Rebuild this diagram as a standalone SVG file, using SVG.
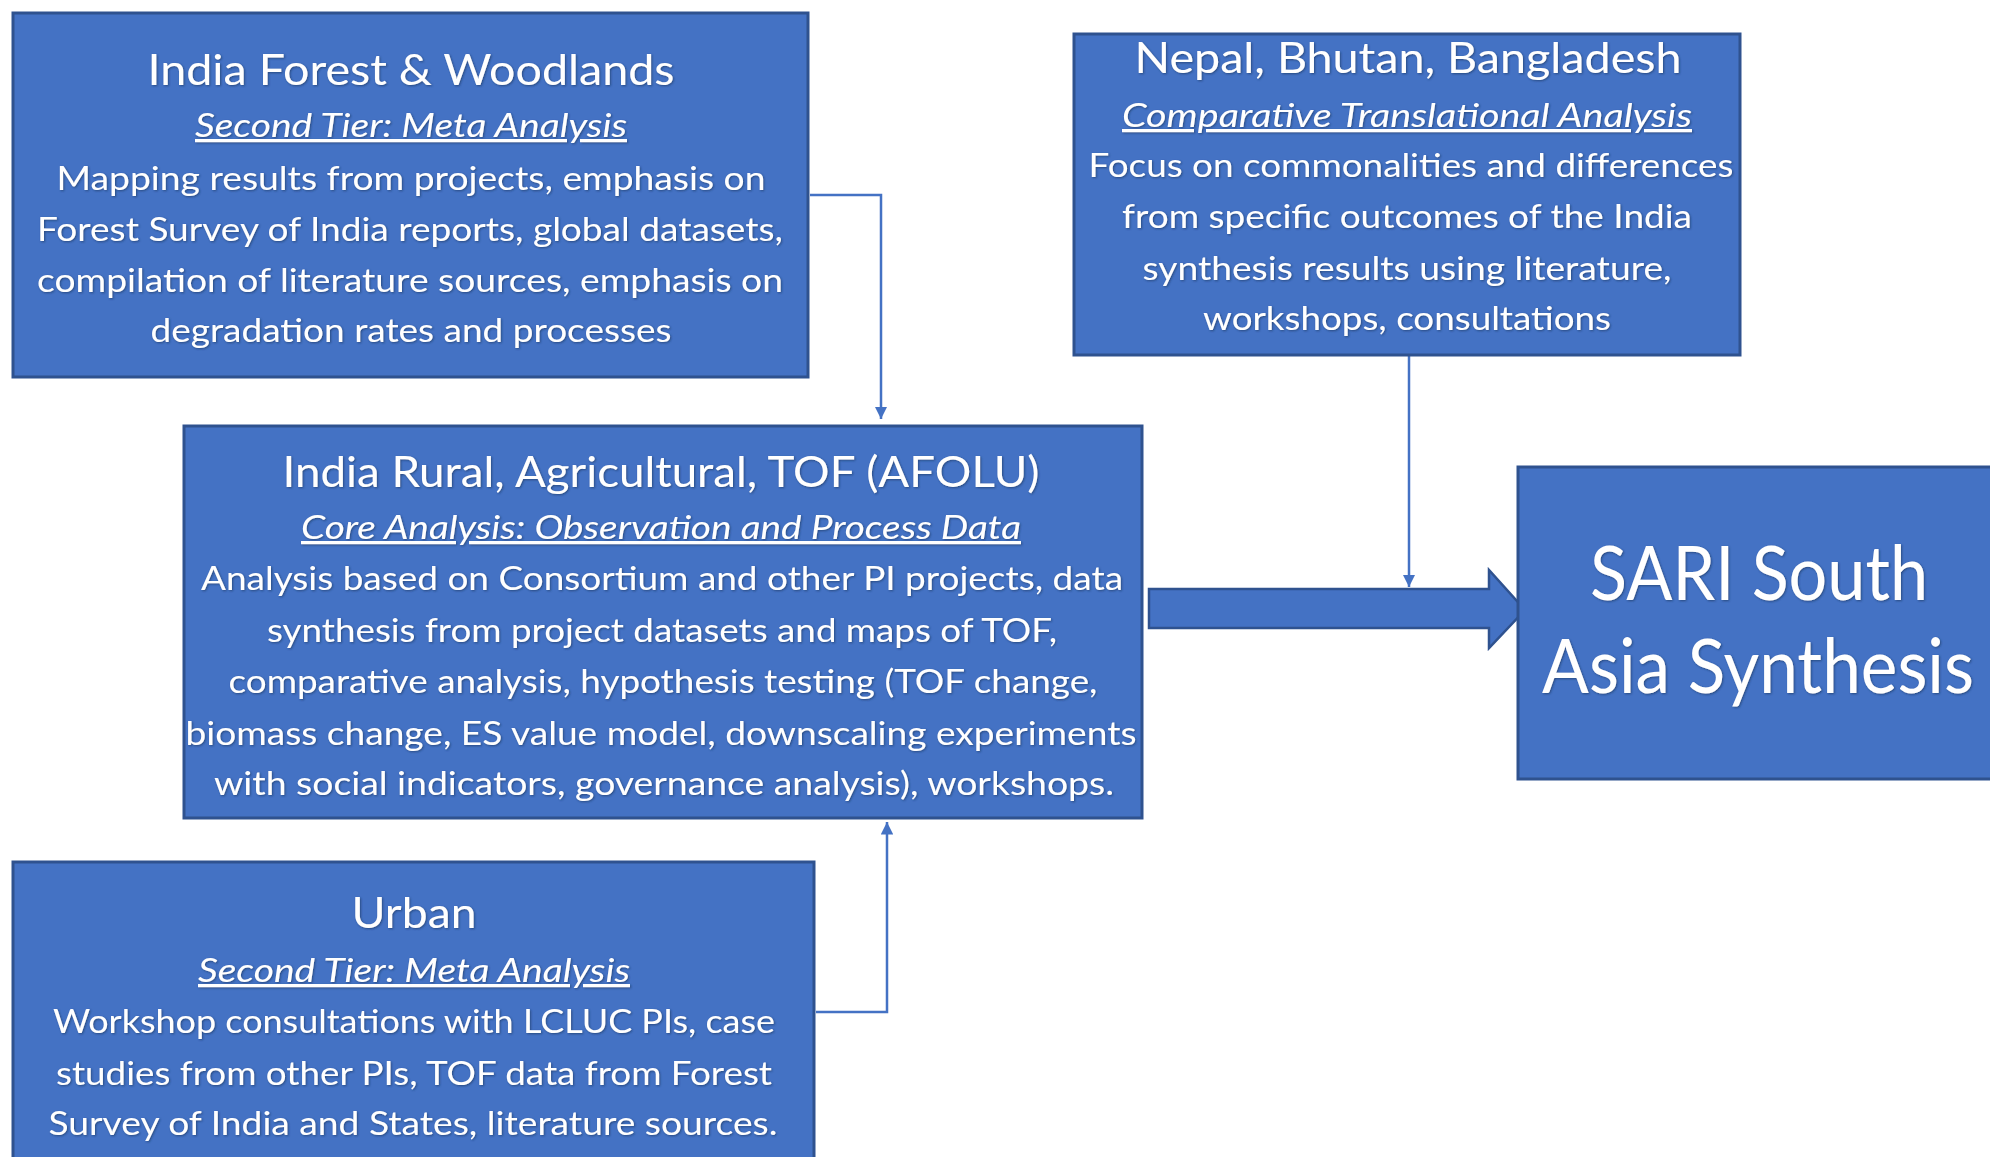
<svg xmlns="http://www.w3.org/2000/svg" width="1990" height="1157" viewBox="0 0 1990 1157">
  <defs>
    <style>
      .box { fill: #4472C4; stroke: #2F528F; stroke-width: 3; }
      .txt { fill: #FFFFFF; font-family: Lato, "Noto Sans", "Liberation Sans", sans-serif; text-anchor: middle; filter: url(#shadow); }
      .title { font-size: 43px; }
      .sub { font-size: 32px; font-style: italic; text-decoration: underline; }
      .body { font-size: 32px; }
      .big { font-size: 76px; }
      .link { fill: none; stroke: #4472C4; stroke-width: 2.5; }
      .bigarrow { fill: #4472C4; stroke: #2F528F; stroke-width: 2.5; stroke-linejoin: miter; }
    </style>
    <filter id="shadow" x="-5%" y="-20%" width="110%" height="140%">
      <feDropShadow dx="1" dy="1" stdDeviation="0.8" flood-color="#1F3864" flood-opacity="0.7"/>
    </filter>
    <marker id="tip" viewBox="0 0 10 10" refX="10" refY="5" markerWidth="5" markerHeight="5" orient="auto" markerUnits="strokeWidth">
      <path d="M0,0 L10,5 L0,10 Z" fill="#4472C4"/>
    </marker>
  </defs>

  <rect width="1990" height="1157" fill="#FFFFFF"/>

  <!-- connectors -->
  <g id="connectors">
    <path class="link" d="M810,195 H881 V419" marker-end="url(#tip)"/>
    <path class="link" d="M1409,356 V587" marker-end="url(#tip)"/>
    <path class="link" d="M816,1012 H887 V822" marker-end="url(#tip)"/>
    <polygon class="bigarrow" points="1149,589 1489,589 1489,570 1525,610 1489,648 1489,628 1149,628"/>
  </g>

  <!-- India Forest & Woodlands -->
  <g id="forest">
    <rect class="box" x="13" y="13" width="795" height="364"/>
    <text class="txt title" x="411" y="85" textLength="527" lengthAdjust="spacingAndGlyphs">India Forest &amp; Woodlands</text>
    <text class="txt sub" x="411" y="137" textLength="432" lengthAdjust="spacingAndGlyphs">Second Tier: Meta Analysis</text>
    <text class="txt body" x="411" y="190" textLength="709" lengthAdjust="spacingAndGlyphs">Mapping results from projects, emphasis on</text>
    <text class="txt body" x="410" y="241" textLength="746" lengthAdjust="spacingAndGlyphs">Forest Survey of India reports, global datasets,</text>
    <text class="txt body" x="410" y="292" textLength="746" lengthAdjust="spacingAndGlyphs">compilation of literature sources, emphasis on</text>
    <text class="txt body" x="411" y="342" textLength="521" lengthAdjust="spacingAndGlyphs">degradation rates and processes</text>
  </g>

  <!-- Nepal, Bhutan, Bangladesh -->
  <g id="nepal">
    <rect class="box" x="1074" y="34" width="666" height="321"/>
    <text class="txt title" x="1408" y="73" textLength="547" lengthAdjust="spacingAndGlyphs">Nepal, Bhutan, Bangladesh</text>
    <text class="txt sub" x="1407" y="127" textLength="570" lengthAdjust="spacingAndGlyphs">Comparative  Translational  Analysis</text>
    <text class="txt body" x="1411" y="177" textLength="645" lengthAdjust="spacingAndGlyphs">Focus on commonalities and differences</text>
    <text class="txt body" x="1407" y="228" textLength="570" lengthAdjust="spacingAndGlyphs">from specific outcomes of the India</text>
    <text class="txt body" x="1407" y="280" textLength="529" lengthAdjust="spacingAndGlyphs">synthesis results using literature,</text>
    <text class="txt body" x="1407" y="330" textLength="408" lengthAdjust="spacingAndGlyphs">workshops, consultations</text>
  </g>

  <!-- India Rural, Agricultural, TOF (AFOLU) -->
  <g id="afolu">
    <rect class="box" x="184" y="426" width="958" height="392"/>
    <text class="txt title" x="661" y="487" textLength="757" lengthAdjust="spacingAndGlyphs">India Rural, Agricultural, TOF (AFOLU)</text>
    <text class="txt sub" x="661" y="539" textLength="720" lengthAdjust="spacingAndGlyphs">Core Analysis: Observation  and Process Data</text>
    <text class="txt body" x="662" y="590" textLength="922" lengthAdjust="spacingAndGlyphs">Analysis based on Consortium and other PI projects, data</text>
    <text class="txt body" x="662" y="642" textLength="790" lengthAdjust="spacingAndGlyphs">synthesis from project datasets and maps of TOF,</text>
    <text class="txt body" x="663" y="693" textLength="869" lengthAdjust="spacingAndGlyphs">comparative analysis, hypothesis testing (TOF change,</text>
    <text class="txt body" x="661" y="745" textLength="951" lengthAdjust="spacingAndGlyphs">biomass change, ES value model, downscaling experiments</text>
    <text class="txt body" x="664" y="795" textLength="900" lengthAdjust="spacingAndGlyphs">with social indicators, governance analysis), workshops.</text>
  </g>

  <!-- Urban -->
  <g id="urban">
    <rect class="box" x="13" y="862" width="801" height="310"/>
    <text class="txt title" x="414" y="928" textLength="125" lengthAdjust="spacingAndGlyphs">Urban</text>
    <text class="txt sub" x="414" y="982" textLength="432" lengthAdjust="spacingAndGlyphs">Second Tier: Meta Analysis</text>
    <text class="txt body" x="414" y="1033" textLength="722" lengthAdjust="spacingAndGlyphs">Workshop consultations with LCLUC PIs, case</text>
    <text class="txt body" x="414" y="1085" textLength="716" lengthAdjust="spacingAndGlyphs">studies from other PIs, TOF data from Forest</text>
    <text class="txt body" x="413" y="1135" textLength="729" lengthAdjust="spacingAndGlyphs">Survey of India and States, literature sources.</text>
  </g>

  <!-- SARI South Asia Synthesis -->
  <g id="sari">
    <rect class="box" x="1518" y="467" width="490" height="312"/>
    <text class="txt big" x="1759" y="600" textLength="338" lengthAdjust="spacingAndGlyphs">SARI South</text>
    <text class="txt big" x="1758" y="693" textLength="432" lengthAdjust="spacingAndGlyphs">Asia Synthesis</text>
  </g>
</svg>
